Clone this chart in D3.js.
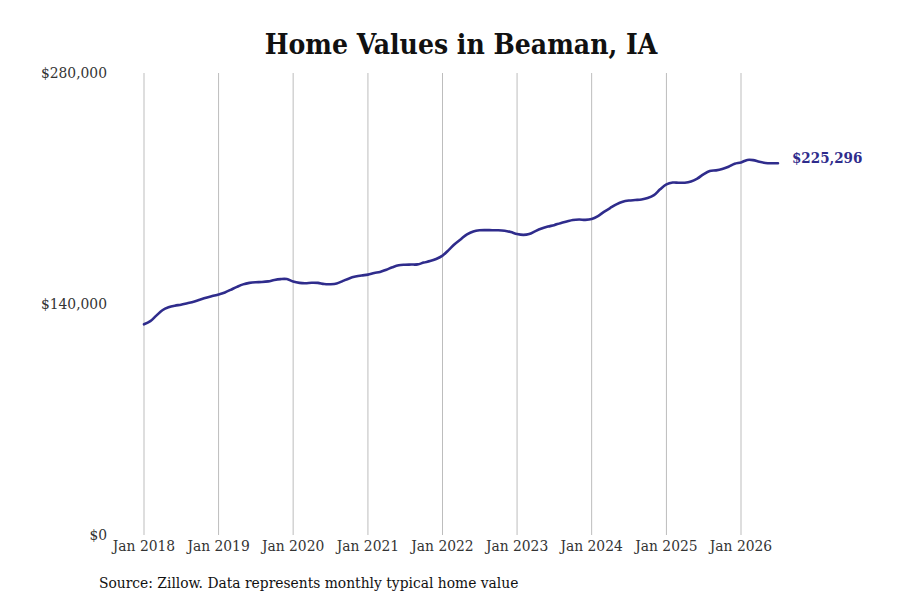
<!DOCTYPE html>
<html>
<head>
<meta charset="utf-8">
<script src="https://cdn.jsdelivr.net/npm/d3@7"></script>
<style>
  body { margin: 0; background: #fff; }
  svg text { font-family: "DejaVu Serif Condensed", "DejaVu Serif", serif; font-stretch: condensed; }
</style>
</head>
<body>
<svg id="chart" width="900" height="600"></svg>
<script>
// monthly typical home value, Jan 2018 .. Jul 2026
const startMonth = new Date(2018, 0, 1);
const values = [
  127.7, 129.6, 132.8, 136.2, 138.0, 139.0, 139.6, 140.5, 141.4, 142.6, 143.8, 144.8,
  145.8, 147.0, 148.6, 150.4, 151.9, 152.8, 153.2, 153.3, 153.7, 154.6, 155.1, 155.1,
  153.6, 152.8, 152.6, 152.9, 152.8, 152.1, 152.0, 152.4, 154.0, 155.5, 156.6, 157.3,
  157.8, 158.8, 159.4, 160.8, 162.3, 163.5, 163.8, 163.9, 164.0, 165.1, 166.0, 167.3,
  169.3, 172.8, 176.2, 179.3, 182.2, 184.0, 184.7, 184.8, 184.7, 184.7, 184.4, 183.6,
  182.4, 181.9, 182.4, 184.2, 185.7, 186.9, 187.8, 189.0, 190.0, 190.9, 191.2, 191.0,
  191.5, 193.3, 195.8, 198.2, 200.4, 202.0, 202.7, 203.0, 203.3, 204.2, 206.0, 209.5,
  212.5, 213.6, 213.5, 213.5, 214.2, 216.0, 218.6, 220.6, 221.0, 221.8, 223.2, 225.0,
  225.8, 227.3, 227.2, 226.2, 225.5, 225.3, 225.296
].map(v => v * 1000);
const yTicks = [0, 140000, 280000];
const xTickYears = [2018, 2019, 2020, 2021, 2022, 2023, 2024, 2025, 2026];
const lastLabel = "$225,296";

const data = values.map((v, i) => ({
  date: new Date(startMonth.getFullYear(), startMonth.getMonth() + i, 1),
  value: v
}));

const svg = d3.select("#chart");
const lineColor = "#2f2c8c";

const x = d3.scaleTime()
  .domain([new Date(2018, 0, 1), new Date(2026, 0, 1)])
  .range([144, 741]);
const y = d3.scaleLinear()
  .domain([0, 280000])
  .range([535, 73]);

// title
svg.append("text")
  .attr("x", 461).attr("y", 54)
  .attr("text-anchor", "middle")
  .attr("font-size", 28).attr("font-weight", "bold")
  .attr("fill", "#111")
  .text("Home Values in Beaman, IA");

// vertical grid
svg.append("g")
  .selectAll("line")
  .data(xTickYears)
  .join("line")
  .attr("x1", d => x(new Date(d, 0, 1)))
  .attr("x2", d => x(new Date(d, 0, 1)))
  .attr("y1", y(280000))
  .attr("y2", y(0))
  .attr("stroke", "#bdbdbd")
  .attr("stroke-width", 1);

// y labels
svg.append("g")
  .selectAll("text")
  .data(yTicks)
  .join("text")
  .attr("x", 107)
  .attr("y", d => y(d) + 5)
  .attr("text-anchor", "end")
  .attr("font-size", 15.4)
  .attr("fill", "#333")
  .text(d => "$" + d3.format(",")(d));

// x labels
svg.append("g")
  .selectAll("text")
  .data(xTickYears)
  .join("text")
  .attr("x", d => x(new Date(d, 0, 1)))
  .attr("y", 551)
  .attr("text-anchor", "middle")
  .attr("font-size", 15.4)
  .attr("fill", "#333")
  .text(d => "Jan " + d);

// line
const line = d3.line()
  .x(d => x(d.date))
  .y(d => y(d.value))
  .curve(d3.curveCatmullRom);

svg.append("path")
  .datum(data)
  .attr("d", line)
  .attr("fill", "none")
  .attr("stroke", lineColor)
  .attr("stroke-width", 2.6)
  .attr("stroke-linecap", "round");

// end label
const last = data[data.length - 1];
svg.append("text")
  .attr("x", x(last.date) + 14)
  .attr("y", y(last.value))
  .attr("font-size", 15).attr("font-weight", "bold")
  .attr("fill", lineColor)
  .text(lastLabel);

// source
svg.append("text")
  .attr("x", 99).attr("y", 588)
  .attr("font-size", 15.4)
  .attr("fill", "#111")
  .text("Source: Zillow. Data represents monthly typical home value");
</script>
</body>
</html>
